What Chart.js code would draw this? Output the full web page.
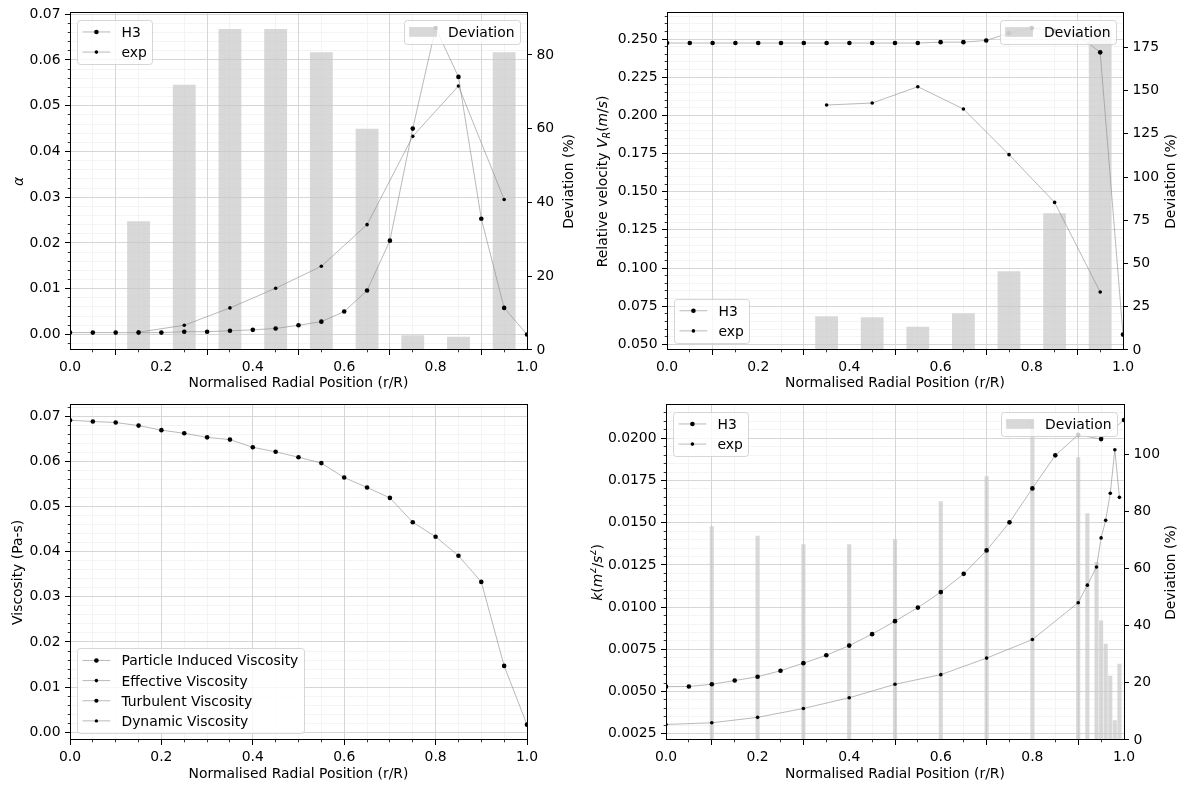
<!DOCTYPE html>
<html>
<head>
<meta charset="utf-8">
<title>Radial profiles</title>
<script src="https://cdn.jsdelivr.net/npm/chart.js@4.4.1/dist/chart.umd.min.js"></script>
<style>
  html, body { margin: 0; padding: 0; background: #fff; }
  #wrap { position: relative; width: 1182px; height: 785px; overflow: hidden; }
  #wrap canvas { position: absolute; }
</style>
</head>
<body>
<div id="wrap">
  <canvas id="alphaChart" width="590" height="392" style="left:0;top:0"></canvas>
  <canvas id="velChart" width="592" height="392" style="left:590px;top:0"></canvas>
  <canvas id="viscChart" width="590" height="393" style="left:0;top:392px"></canvas>
  <canvas id="kChart" width="592" height="393" style="left:590px;top:392px"></canvas>
</div>
<script>
// ---- data ----
const radialPos = [0, 0.05, 0.1, 0.15, 0.2, 0.25, 0.3, 0.35, 0.4, 0.45, 0.5, 0.55, 0.6, 0.65, 0.7, 0.75, 0.8, 0.85, 0.9, 0.95, 1.0];
const radialTicks = [0, 0.2, 0.4, 0.6, 0.8, 1.0];

// holdup alpha
const alphaH3 = [0.0004, 0.0004, 0.0004, 0.0004, 0.0004, 0.0006, 0.0006, 0.0008, 0.0010, 0.0013, 0.0020, 0.0028, 0.0050, 0.0096, 0.0205, 0.0450, 0.0670, 0.0563, 0.0253, 0.0058, 0.0000];
const alphaExpPos = [0.15, 0.25, 0.35, 0.45, 0.55, 0.65, 0.75, 0.85, 0.95];
const alphaExp = [0.0005, 0.0020, 0.0058, 0.0101, 0.0149, 0.0240, 0.0433, 0.0543, 0.0295];
const alphaDev = [34.9, 71.9, 87.0, 87.0, 80.7, 60.0, 4.0, 3.6, 80.7];
const alphaTicks = [0, 0.01, 0.02, 0.03, 0.04, 0.05, 0.06, 0.07];
const alphaDevTicks = [0, 20, 40, 60, 80];

// relative velocity
const velH3 = [0.2474, 0.2474, 0.2474, 0.2474, 0.2474, 0.2474, 0.2474, 0.2474, 0.2474, 0.2474, 0.2474, 0.2474, 0.2480, 0.2480, 0.2491, 0.2539, 0.2572, 0.2555, 0.2528, 0.2413, 0.0564];
const velExpPos = [0.35, 0.45, 0.55, 0.65, 0.75, 0.85, 0.95];
const velExp = [0.2068, 0.2081, 0.2188, 0.2042, 0.1743, 0.1430, 0.0843];
const velDev = [19.5, 18.9, 13.4, 21.2, 45.5, 79.0, 185.6];
const velTicks = [0.05, 0.075, 0.1, 0.125, 0.15, 0.175, 0.2, 0.225, 0.25];
const velDevTicks = [0, 25, 50, 75, 100, 125, 150, 175];

// viscosity
const viscParticle = [0.0691, 0.0688, 0.0686, 0.0679, 0.0669, 0.0662, 0.0653, 0.0648, 0.0631, 0.0621, 0.0609, 0.0596, 0.0564, 0.0542, 0.0519, 0.0465, 0.0433, 0.0391, 0.0333, 0.0147, 0.0017];
const viscTicks = [0, 0.01, 0.02, 0.03, 0.04, 0.05, 0.06, 0.07];

// turbulent kinetic energy
const kH3 = [0.00529, 0.00530, 0.00543, 0.00565, 0.00588, 0.00623, 0.00668, 0.00715, 0.00772, 0.00840, 0.00917, 0.00997, 0.01089, 0.01197, 0.01336, 0.01502, 0.01703, 0.01899, 0.02020, 0.01995, 0.02108];
const kExpPos = [0, 0.1, 0.2, 0.3, 0.4, 0.5, 0.6, 0.7, 0.8, 0.9, 0.92, 0.94, 0.95, 0.96, 0.97, 0.98, 0.99];
const kExp = [0.00305, 0.00315, 0.00347, 0.00400, 0.00463, 0.00543, 0.00600, 0.00698, 0.00808, 0.01026, 0.01130, 0.01238, 0.01410, 0.01514, 0.01674, 0.01932, 0.01650];
const kDevPos = [0.1, 0.2, 0.3, 0.4, 0.5, 0.6, 0.7, 0.8, 0.9, 0.92, 0.94, 0.95, 0.96, 0.97, 0.98, 0.99];
const kDev = [74.8, 71.5, 68.5, 68.5, 70.3, 83.6, 92.3, 111.7, 99.0, 79.4, 62.3, 41.8, 33.7, 22.5, 6.9, 26.7];
const kTicks = [0.0025, 0.005, 0.0075, 0.01, 0.0125, 0.015, 0.0175, 0.02];
const kDevTicks = [0, 20, 40, 60, 80, 100];

// ---- style ----
const FS = 13.9;
const FONT = '"DejaVu Sans"';
const LINE_GREY = '#8a8a8a';
const BAR_GREY = 'rgba(200,200,200,0.7)';
const MAJOR_GRID = '#d6d6d6';
const MINOR_GRID = '#f4f4f4';

Chart.defaults.font.family = 'DejaVu Sans';
Chart.defaults.font.size = FS;
Chart.defaults.color = '#000';
Chart.defaults.animation = false;

function pts(xs, ys) {
    return xs.map((x, i) => ({ x: x, y: ys[i] }));
}

function lineSet(label, xs, ys, r) {
    return {
        type: 'line', label: label, data: pts(xs, ys), yAxisID: 'y', order: 1,
        borderColor: LINE_GREY, borderWidth: 0.6, tension: 0, fill: false,
        pointRadius: r, pointHoverRadius: r, pointBackgroundColor: '#000',
        pointBorderColor: '#000', pointBorderWidth: 0
    };
}

function barSet(xs, ys, pct) {
    return {
        type: 'bar', label: 'Deviation', data: pts(xs, ys), yAxisID: 'y1', order: 2,
        backgroundColor: BAR_GREY, borderWidth: 0,
        barPercentage: pct, categoryPercentage: 1.0
    };
}

function setTicks(values) {
    return (scale) => { scale.ticks = values.map(v => ({ value: v })); };
}

function xScale(h) {
    return {
        type: 'linear', position: 'bottom', min: 0, max: 1, offset: false,
        afterBuildTicks: setTicks(radialTicks),
        ticks: { padding: 4.5, maxRotation: 0, autoSkip: false, callback: v => v.toFixed(1) },
        grid: { color: MAJOR_GRID, lineWidth: 1, tickLength: 5, tickColor: '#000', tickWidth: 1 },
        border: { display: false },
        afterFit: s => { s.height = h; }
    };
}

function yScale(range, ticks, dec, w) {
    return {
        type: 'linear', position: 'left', min: range[0], max: range[1],
        afterBuildTicks: setTicks(ticks),
        ticks: { padding: 4.5, autoSkip: false, callback: v => v.toFixed(dec) },
        grid: { color: MAJOR_GRID, lineWidth: 1, tickLength: 5, tickColor: '#000', tickWidth: 1 },
        border: { display: false },
        afterFit: s => { s.width = w; }
    };
}

function y2Scale(max, ticks, w) {
    return {
        type: 'linear', position: 'right', min: 0, max: max,
        afterBuildTicks: setTicks(ticks),
        ticks: { padding: 4.5, autoSkip: false, callback: v => String(Math.round(v)) },
        grid: { drawOnChartArea: false, tickLength: 5, tickColor: '#000', tickWidth: 1 },
        border: { display: false },
        afterFit: s => { s.width = w; }
    };
}

// per chart decorations: minor grid, frame, titles, legends
const deco = {
    alphaChart: {
        yMinor: 0.002, yMajor: 0.01,
        left: { x: 18, segs: [{ t: 'α', it: true }] },
        right: { x: 567.5, segs: [{ t: 'Deviation (%)' }] },
        bottomY: 382,
        legends: [{ corner: 'upper left', items: [0, 1] }, { corner: 'upper right', items: [2] }]
    },
    velChart: {
        yMinor: 0.005, yMajor: 0.025,
        left: { x: 11.7, segs: [{ t: 'Relative velocity ' }, { t: 'V', it: true }, { t: 'R', it: true, sc: 0.7, dy: 0.22 }, { t: '(' }, { t: 'm', it: true }, { t: '/' }, { t: 's', it: true }, { t: ')' }] },
        right: { x: 580, segs: [{ t: 'Deviation (%)' }] },
        bottomY: 382,
        legends: [{ corner: 'lower left', items: [0, 1] }, { corner: 'upper right', items: [2] }]
    },
    viscChart: {
        yMinor: 0.002, yMajor: 0.01,
        left: { x: 16.7, segs: [{ t: 'Viscosity (Pa-s)' }] },
        right: null,
        bottomY: 381,
        legends: [{ corner: 'lower left', items: [0, 1, 2, 3] }]
    },
    kChart: {
        yMinor: 0.0005, yMajor: 0.0025,
        left: { x: 6.5, segs: [{ t: 'k', it: true }, { t: '(' }, { t: 'm', it: true }, { t: '2', sc: 0.7, dy: -0.38 }, { t: '/' }, { t: 's', it: true }, { t: '2', sc: 0.7, dy: -0.38 }, { t: ')' }] },
        right: { x: 580, segs: [{ t: 'Deviation (%)' }] },
        bottomY: 381,
        legends: [{ corner: 'upper left', items: [0, 1] }, { corner: 'upper right', items: [2] }]
    }
};

function align(p) {
    return Math.round(p - 0.5) + 0.5;
}

function minorValues(min, max, minor, major) {
    const out = [];
    const per = Math.round(major / minor);
    for (let i = Math.ceil(min / minor - 1e-9); i <= Math.floor(max / minor + 1e-9); i++) {
        if (i % per !== 0) out.push(i * minor);
    }
    return out;
}

function drawRich(ctx, segs, cx, cy, rot) {
    ctx.save();
    ctx.translate(cx, cy);
    ctx.rotate(rot);
    let total = 0;
    const parts = segs.map(s => {
        const size = FS * (s.sc || 1);
        const font = (s.it ? 'italic ' : '') + size + 'px ' + FONT;
        ctx.font = font;
        const w = ctx.measureText(s.t).width;
        total += w;
        return { t: s.t, font: font, w: w, dy: s.dy || 0 };
    });
    let x = -total / 2;
    ctx.fillStyle = '#000';
    ctx.textBaseline = 'alphabetic';
    parts.forEach(p => {
        ctx.font = p.font;
        ctx.fillText(p.t, x, 0.36 * FS + p.dy * FS);
        x += p.w;
    });
    ctx.restore();
}

function roundRectPath(ctx, x, y, w, h, r) {
    ctx.beginPath();
    ctx.moveTo(x + r, y);
    ctx.lineTo(x + w - r, y);
    ctx.arcTo(x + w, y, x + w, y + r, r);
    ctx.lineTo(x + w, y + h - r);
    ctx.arcTo(x + w, y + h, x + w - r, y + h, r);
    ctx.lineTo(x + r, y + h);
    ctx.arcTo(x, y + h, x, y + h - r, r);
    ctx.lineTo(x, y + r);
    ctx.arcTo(x, y, x + r, y, r);
    ctx.closePath();
}

function drawLegend(chart, lg) {
    const ctx = chart.ctx;
    const a = chart.chartArea;
    const pad = 0.4 * FS, rowH = 13.2, gap = 0.5 * FS, handleW = 2 * FS, textGap = 0.8 * FS, axPad = 0.5 * FS;
    const items = lg.items.map(i => chart.data.datasets[i]);
    ctx.save();
    ctx.font = FS + 'px ' + FONT;
    const textW = Math.max(...items.map(d => ctx.measureText(d.label).width));
    const w = 2 * pad + handleW + textGap + textW;
    const h = 2 * pad + items.length * rowH + (items.length - 1) * gap;
    const x = lg.corner.indexOf('left') >= 0 ? a.left + axPad : a.right - axPad - w;
    const y = lg.corner.indexOf('upper') >= 0 ? a.top + axPad : a.bottom - axPad - h;

    roundRectPath(ctx, Math.round(x) + 0.5, Math.round(y) + 0.5, Math.round(w), Math.round(h), 3);
    ctx.fillStyle = 'rgba(255,255,255,0.8)';
    ctx.fill();
    ctx.strokeStyle = 'rgba(204,204,204,0.8)';
    ctx.lineWidth = 1;
    ctx.stroke();

    items.forEach((d, k) => {
        const cy = y + pad + rowH / 2 + k * (rowH + gap);
        const hx = x + pad;
        if (d.type === 'bar') {
            ctx.fillStyle = d.backgroundColor;
            ctx.fillRect(hx, cy - 0.35 * FS, handleW, 0.7 * FS);
        } else {
            ctx.strokeStyle = d.borderColor;
            ctx.lineWidth = d.borderWidth;
            ctx.beginPath();
            ctx.moveTo(hx, cy);
            ctx.lineTo(hx + handleW, cy);
            ctx.stroke();
            ctx.fillStyle = '#000';
            ctx.beginPath();
            ctx.arc(hx + handleW / 2, cy, d.pointRadius, 0, Math.PI * 2);
            ctx.fill();
        }
        ctx.fillStyle = '#000';
        ctx.textBaseline = 'alphabetic';
        ctx.font = FS + 'px ' + FONT;
        ctx.fillText(d.label, hx + handleW + textGap, cy + 0.36 * FS);
    });
    ctx.restore();
}

const mplLook = {
    id: 'mplLook',
    beforeDraw(chart) {
        const cfg = deco[chart.canvas.id];
        const ctx = chart.ctx;
        const a = chart.chartArea;
        const xs = chart.scales.x, ys = chart.scales.y;
        ctx.save();
        ctx.strokeStyle = MINOR_GRID;
        ctx.lineWidth = 1;
        ctx.beginPath();
        minorValues(xs.min, xs.max, 0.05, 0.2).forEach(v => {
            const px = align(xs.getPixelForValue(v));
            ctx.moveTo(px, a.top);
            ctx.lineTo(px, a.bottom);
        });
        minorValues(ys.min, ys.max, cfg.yMinor, cfg.yMajor).forEach(v => {
            const py = align(ys.getPixelForValue(v));
            ctx.moveTo(a.left, py);
            ctx.lineTo(a.right, py);
        });
        ctx.stroke();
        ctx.restore();
    },
    afterDraw(chart) {
        const cfg = deco[chart.canvas.id];
        const ctx = chart.ctx;
        const a = chart.chartArea;
        const xs = chart.scales.x, ys = chart.scales.y;
        const l = align(a.left), r = align(a.right), t = align(a.top), b = align(a.bottom);

        ctx.save();
        // minor ticks
        ctx.strokeStyle = '#000';
        ctx.lineWidth = 0.8;
        ctx.beginPath();
        minorValues(xs.min, xs.max, 0.05, 0.2).forEach(v => {
            const px = align(xs.getPixelForValue(v));
            ctx.moveTo(px, b);
            ctx.lineTo(px, b + 2.8);
        });
        minorValues(ys.min, ys.max, cfg.yMinor, cfg.yMajor).forEach(v => {
            const py = align(ys.getPixelForValue(v));
            ctx.moveTo(l, py);
            ctx.lineTo(l - 2.8, py);
        });
        ctx.stroke();

        // frame
        ctx.lineWidth = 1;
        ctx.strokeRect(l, t, r - l, b - t);
        ctx.restore();

        // titles
        const midY = (a.top + a.bottom) / 2;
        drawRich(ctx, cfg.left.segs, cfg.left.x, midY, -Math.PI / 2);
        if (cfg.right) drawRich(ctx, cfg.right.segs, cfg.right.x, midY, -Math.PI / 2);
        drawRich(ctx, [{ t: 'Normalised Radial Position (r/R)' }], (a.left + a.right) / 2, cfg.bottomY, 0);

        cfg.legends.forEach(lg => drawLegend(chart, lg));
    }
};

function makeChart(id, datasets, scales, padding) {
    return new Chart(document.getElementById(id), {
        type: 'line',
        data: { datasets: datasets },
        options: {
            responsive: false,
            animation: false,
            devicePixelRatio: 1,
            parsing: true,
            layout: { padding: padding },
            plugins: { legend: { display: false }, tooltip: { enabled: false } },
            scales: scales
        },
        plugins: [mplLook]
    });
}

makeChart('alphaChart',
    [
        lineSet('H3', radialPos, alphaH3, 2.3),
        lineSet('exp', alphaExpPos, alphaExp, 1.8),
        barSet(alphaExpPos, alphaDev, 0.5)
    ],
    { x: xScale(42), y: yScale([-0.0034, 0.0703], alphaTicks, 2, 70), y1: y2Scale(91.4, alphaDevTicks, 63) },
    { top: 12, right: 0, left: 0, bottom: 0 });

makeChart('velChart',
    [
        lineSet('H3', radialPos, velH3, 2.3),
        lineSet('exp', velExpPos, velExp, 1.8),
        barSet(velExpPos, velDev, 0.5)
    ],
    { x: xScale(42), y: yScale([0.0463, 0.2672], velTicks, 3, 77), y1: y2Scale(194.9, velDevTicks, 59) },
    { top: 11, right: 0, left: 0, bottom: 0 });

makeChart('viscChart',
    [
        lineSet('Particle Induced Viscosity', radialPos, viscParticle, 2.3),
        lineSet('Effective Viscosity', [], [], 1.8),
        lineSet('Turbulent Viscosity', [], [], 2.1),
        lineSet('Dynamic Viscosity', [], [], 1.7)
    ],
    { x: xScale(45), y: yScale([-0.0017, 0.0725], viscTicks, 2, 70) },
    { top: 9, right: 63, left: 0, bottom: 0 });

makeChart('kChart',
    [
        lineSet('H3', radialPos, kH3, 2.3),
        lineSet('exp', kExpPos, kExp, 1.8),
        barSet(kDevPos, kDev, 0.9)
    ],
    { x: xScale(45), y: yScale([0.00213, 0.02198], kTicks, 4, 76), y1: y2Scale(117.3, kDevTicks, 58) },
    { top: 9, right: 0, left: 0, bottom: 0 });
</script>
</body>
</html>
